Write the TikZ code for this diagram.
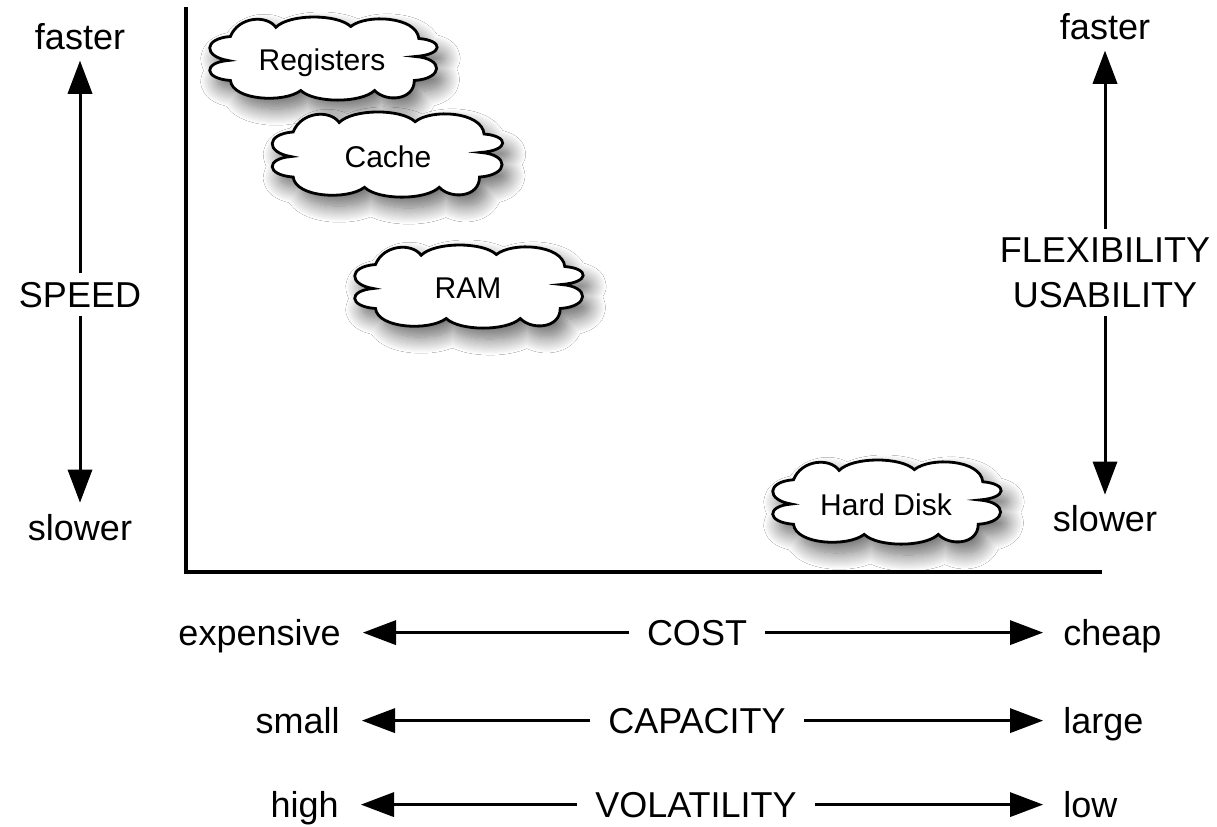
\documentclass[tikz,border=0pt]{standalone}
\usepackage{fontspec}
\setmainfont{Liberation Sans}
\usetikzlibrary{arrows.meta,shadows.blur}

% cloud outline centred at (#1,#2), half-width #3, half-height #4
\newcommand{\memcloud}[4]{%
  \path[cloudbox]
    ({#1-0.84*#3},{#2+0.05*#4})
    .. controls ({#1-1.06*#3},{#2-0.05*#4}) and ({#1-1.06*#3},{#2-0.50*#4}) .. ({#1-0.82*#3},{#2-0.55*#4})
    .. controls ({#1-0.75*#3},{#2-1.05*#4}) and ({#1-0.50*#3},{#2-1.10*#4}) .. ({#1-0.42*#3},{#2-0.78*#4})
    .. controls ({#1-0.30*#3},{#2-1.12*#4}) and ({#1+0.12*#3},{#2-1.12*#4}) .. ({#1+0.24*#3},{#2-0.80*#4})
    .. controls ({#1+0.38*#3},{#2-1.12*#4}) and ({#1+0.82*#3},{#2-1.05*#4}) .. ({#1+0.84*#3},{#2-0.50*#4})
    .. controls ({#1+1.06*#3},{#2-0.45*#4}) and ({#1+1.06*#3},{#2-0.10*#4}) .. ({#1+0.81*#3},{#2-0.05*#4})
    .. controls ({#1+1.06*#3},{#2+0.00*#4}) and ({#1+1.06*#3},{#2+0.50*#4}) .. ({#1+0.80*#3},{#2+0.55*#4})
    .. controls ({#1+0.80*#3},{#2+1.05*#4}) and ({#1+0.55*#3},{#2+1.10*#4}) .. ({#1+0.45*#3},{#2+0.80*#4})
    .. controls ({#1+0.33*#3},{#2+1.12*#4}) and ({#1-0.08*#3},{#2+1.12*#4}) .. ({#1-0.20*#3},{#2+0.80*#4})
    .. controls ({#1-0.35*#3},{#2+1.12*#4}) and ({#1-0.80*#3},{#2+1.05*#4}) .. ({#1-0.82*#3},{#2+0.55*#4})
    .. controls ({#1-1.06*#3},{#2+0.50*#4}) and ({#1-1.06*#3},{#2+0.10*#4}) .. cycle;}

\tikzset{
  cloudbox/.style={draw=black, line width=1.4pt, fill=white,
    blur shadow={shadow xshift=3.5pt, shadow yshift=-5.5pt,
                 shadow blur radius=8pt, shadow blur steps=16,
                 shadow opacity=60}},
  cloudtxt/.style={font=\fontsize{15}{18}\selectfont, anchor=base, inner sep=0pt},
  endlbl/.style={font=\fontsize{18}{22}\selectfont, inner sep=0pt},
  axislbl/.style={font=\fontsize{18}{22}\selectfont, anchor=base, inner xsep=9pt, inner ysep=4pt},
  arr/.style={draw=black, line width=1.5pt, opacity=1,
    -{Triangle[width=12.5pt, length=16.5pt, fill=black, line width=0pt]}},
  axis/.style={line width=1.8pt, line cap=rect},
}

\begin{document}
\begin{tikzpicture}[x=0.5pt, y=-0.5pt]
  \useasboundingbox[fill=white] (0,0) rectangle (1217,826);

  % axes
  \coordinate (top) at (186,9);
  \coordinate (origin) at (186,572);
  \coordinate (right) at (1100,572);
  \draw[axis] (top) -- (origin) -- (right);

  % speed scale
  \node[endlbl, anchor=base] (fasterL) at (80,49)  {faster};
  \node[axislbl]             (speed)   at (80,307) {SPEED};
  \node[endlbl, anchor=base] (slowerL) at (80,540) {slower};
  \draw[arr, shorten >=5.5pt] (speed.north) -- (speed.north |- fasterL.south);
  \draw[arr, shorten >=5.5pt] (speed.south) -- (speed.south |- slowerL.north);

  % flexibility / usability scale
  \node[endlbl, anchor=base] (fasterR) at (1105,39)  {faster};
  \node[axislbl]             (flex)    at (1105,262) {FLEXIBILITY};
  \node[axislbl]             (usab)    at (1105,307) {USABILITY};
  \node[endlbl, anchor=base] (slowerR) at (1105,531) {slower};
  \draw[arr, shorten >=5.5pt] (flex.north) -- (flex.north |- fasterR.south);
  \draw[arr, shorten >=5pt]   (usab.south) -- (usab.south |- slowerR.north);

  % cost
  \node[endlbl, anchor=base east] (expensive) at (341,645)  {expensive};
  \node[axislbl]                  (cost)      at (697,645)  {COST};
  \node[endlbl, anchor=base west] (cheap)     at (1063,645) {cheap};
  \draw[arr, shorten >=11pt] (cost.west) -- (expensive.east |- cost.west);
  \draw[arr, shorten >=10pt] (cost.east) -- (cheap.west |- cost.east);

  % capacity
  \node[endlbl, anchor=base east] (small)    at (340,733)  {small};
  \node[axislbl]                  (capacity) at (697,733)  {CAPACITY};
  \node[endlbl, anchor=base west] (large)    at (1063,733) {large};
  \draw[arr, shorten >=11pt] (capacity.west) -- (small.east |- capacity.west);
  \draw[arr, shorten >=10pt] (capacity.east) -- (large.west |- capacity.east);

  % volatility
  \node[endlbl, anchor=base east] (high)       at (339,817)  {high};
  \node[axislbl]                  (volatility) at (696,817)  {VOLATILITY};
  \node[endlbl, anchor=base west] (low)        at (1063,817) {low};
  \draw[arr, shorten >=11pt] (volatility.west) -- (high.east |- volatility.west);
  \draw[arr, shorten >=10pt] (volatility.east) -- (low.west |- volatility.east);

  % memory levels
  \memcloud{323.5}{58.5}{113.5}{40}
  \memcloud{387.5}{154.5}{115}{41}
  \memcloud{469}{286.5}{114}{40}
  \memcloud{887}{502}{114}{40.5}
  \node[cloudtxt] (reg)   at (322,70)  {Registers};
  \node[cloudtxt] (cache) at (388,167) {Cache};
  \node[cloudtxt] (ram)   at (468,298) {RAM};
  \node[cloudtxt] (disk)  at (886,515) {Hard Disk};
\end{tikzpicture}
\end{document}
